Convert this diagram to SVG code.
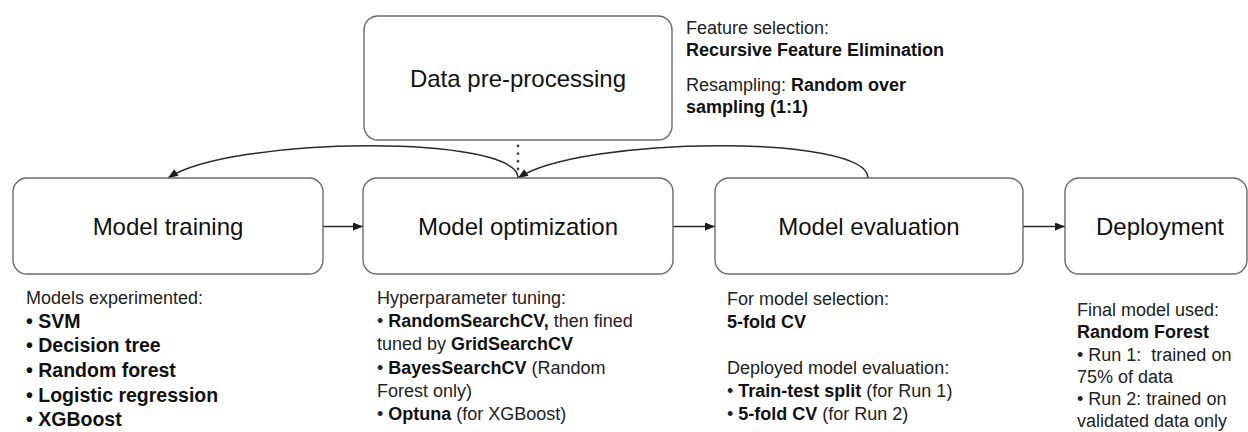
<svg xmlns="http://www.w3.org/2000/svg" width="1248" height="432" viewBox="0 0 1248 432">
  <defs>
    <marker id="arrow" viewBox="0 0 10 8" refX="10" refY="4" markerWidth="11" markerHeight="8" markerUnits="userSpaceOnUse" orient="auto">
      <path d="M0,0 L10,4 L0,8 z" fill="#1a1a1a"/>
    </marker>
    <style>
      .box { fill: #ffffff; stroke: #6b6b6b; stroke-width: 1.4; }
      .label { font-family: "Liberation Sans", Arial, sans-serif; font-size: 24px; fill: #111111; text-anchor: middle; }
      .note { font-family: "Liberation Sans", Arial, sans-serif; font-size: 18px; fill: #222222; }
      .big { font-size: 19.5px; }
      .b { font-weight: bold; fill: #111111; }
      .link { fill: none; stroke: #2a2a2a; stroke-width: 1.5; }
      .dots { fill: none; stroke: #444444; stroke-width: 2.8; stroke-linecap: round; stroke-dasharray: 0.1 7.5; }
    </style>
  </defs>
  <rect width="1248" height="432" fill="#ffffff"/>

  <!-- connectors -->
  <g id="connectors">
    <path class="dots" d="M518,146 L518,174"/>
    <path class="link" d="M518,178 C518,134 232,136 168,178" marker-end="url(#arrow)"/>
    <path class="link" d="M868,178 C868,134 582,136 518,178" marker-end="url(#arrow)"/>
    <path class="link" d="M323,226.5 L363,226.5" marker-end="url(#arrow)"/>
    <path class="link" d="M673,226.5 L715,226.5" marker-end="url(#arrow)"/>
    <path class="link" d="M1023,226.5 L1065,226.5" marker-end="url(#arrow)"/>
  </g>

  <!-- data pre-processing -->
  <g id="preprocessing">
    <rect class="box" x="364" y="16" width="308" height="124" rx="14"/>
    <text class="label" x="518" y="87">Data pre-processing</text>
    <text class="note" x="686" y="34">Feature selection:</text>
    <text class="note b" x="686" y="56">Recursive Feature Elimination</text>
    <text class="note" x="686" y="91">Resampling: <tspan class="b">Random over</tspan></text>
    <text class="note b" x="686" y="113">sampling (1:1)</text>
  </g>

  <!-- model training -->
  <g id="training">
    <rect class="box" x="13" y="178" width="310" height="96" rx="14"/>
    <text class="label" x="168" y="235">Model training</text>
    <text class="note" x="26" y="304">Models experimented:</text>
    <text class="note big b" x="26" y="328">• SVM</text>
    <text class="note big b" x="26" y="352">• Decision tree</text>
    <text class="note big b" x="26" y="377">• Random forest</text>
    <text class="note big b" x="26" y="402">• Logistic regression</text>
    <text class="note big b" x="26" y="426">• XGBoost</text>
  </g>

  <!-- model optimization -->
  <g id="optimization">
    <rect class="box" x="363" y="178" width="310" height="96" rx="14"/>
    <text class="label" x="518" y="235">Model optimization</text>
    <text class="note" x="377" y="304">Hyperparameter tuning:</text>
    <text class="note" x="377" y="327">• <tspan class="b">RandomSearchCV,</tspan> then fined</text>
    <text class="note" x="377" y="350">tuned by <tspan class="b">GridSearchCV</tspan></text>
    <text class="note" x="377" y="374">• <tspan class="b">BayesSearchCV</tspan> (Random</text>
    <text class="note" x="377" y="397">Forest only)</text>
    <text class="note" x="377" y="420">• <tspan class="b">Optuna</tspan> (for XGBoost)</text>
  </g>

  <!-- model evaluation -->
  <g id="evaluation">
    <rect class="box" x="715" y="178" width="308" height="96" rx="14"/>
    <text class="label" x="869" y="235">Model evaluation</text>
    <text class="note" x="727" y="305">For model selection:</text>
    <text class="note b" x="727" y="328">5-fold CV</text>
    <text class="note" x="727" y="374">Deployed model evaluation:</text>
    <text class="note" x="727" y="397">• <tspan class="b">Train-test split</tspan> (for Run 1)</text>
    <text class="note" x="727" y="420">• <tspan class="b">5-fold CV</tspan> (for Run 2)</text>
  </g>

  <!-- deployment -->
  <g id="deployment">
    <rect class="box" x="1065" y="178" width="182" height="96" rx="14"/>
    <text class="label" x="1160" y="235">Deployment</text>
    <text class="note" x="1077" y="316">Final model used:</text>
    <text class="note b" x="1077" y="338">Random Forest</text>
    <text class="note" x="1077" y="361" style="white-space:pre">• Run 1:  trained on</text>
    <text class="note" x="1077" y="383">75% of data</text>
    <text class="note" x="1077" y="405">• Run 2: trained on</text>
    <text class="note" x="1077" y="427">validated data only</text>
  </g>
</svg>
